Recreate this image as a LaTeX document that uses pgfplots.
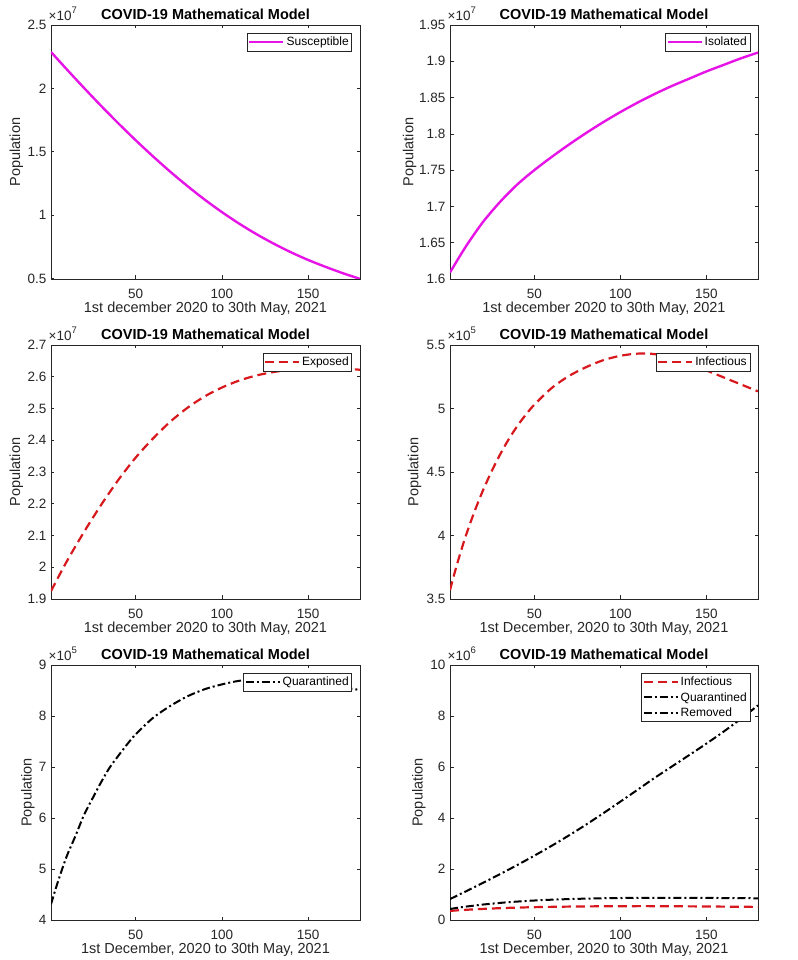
\documentclass[border=0pt]{standalone}
\usepackage{fontspec}
\setmainfont{Liberation Sans}
\usepackage{pgfplots}
\pgfplotsset{compat=1.18}
\definecolor{axgray}{RGB}{38,38,38}
\definecolor{mag}{RGB}{230,20,230}
\definecolor{myred}{RGB}{215,25,30}
\pgfplotsset{
  covid/.style={
    scale only axis, width=309pt, height=254pt, anchor=south west,
    xmin=1, xmax=180, xtick={50,100,150},
    tick align=inside, major tick length=3.5pt,
    axis line style={axgray, line width=0.5pt},
    every tick/.append style={axgray, line width=0.5pt},
    tick label style={font=\fontsize{13.5}{15}\selectfont, text=axgray},
    /pgf/number format/assume math mode=true,
    xticklabel style={anchor=north, inner sep=0pt, yshift=-10pt},
    yticklabel style={anchor=east, inner sep=0pt, xshift=-4.5pt},
    scaled x ticks=false,
    title style={font=\bfseries\fontsize{14.5}{17}\selectfont, at={(axis description cs:0.5,1)}, anchor=base, yshift=-1pt, inner sep=0pt},
    title={COVID-19 Mathematical Model},
    xlabel style={font=\fontsize{14.5}{17}\selectfont, text=axgray, at={(axis description cs:0.5,0)}, anchor=base, yshift=-33.5pt, inner sep=0pt},
    ylabel style={font=\fontsize{14.5}{17}\selectfont, text=axgray, anchor=base, inner sep=0pt},
    ylabel={Population},
    ytick scale label code/.code={×10\raisebox{0.55em}{\fontsize{9.5}{10}\selectfont ##1}},
    every y tick scale label/.style={at={(axis description cs:0,1)}, anchor=base west, xshift=2pt, yshift=4.3pt, inner sep=0pt, font=\fontsize{13.5}{15}\selectfont, text=axgray},
    legend style={at={(axis description cs:0.974,0.969)}, anchor=north east, draw=axgray, line width=0.5pt, fill=white, font=\fontsize{12}{14}\selectfont, inner xsep=1pt, inner ysep=2pt, row sep=1pt, text=black},
    legend cell align=left,
    legend image code/.code={\draw[##1] (0pt,0pt) -- (34pt,0pt);},
  },
  magline/.style={mag, line width=2.4pt, smooth},
  redline/.style={myred, line width=2.2pt, dash pattern=on 9pt off 5pt, smooth},
  blkline/.style={black, line width=2pt, dash pattern=on 8pt off 3pt on 2pt off 3pt, smooth},
}
\begin{document}
\begin{tikzpicture}
\useasboundingbox (0,0) rectangle (797pt,960pt);

% ---------- Row 1 left: Susceptible
\begin{axis}[covid, at={(51pt,681pt)},
  ymin=4950000, ymax=25000000,
  ytick={5000000,10000000,15000000,20000000,25000000},
  scaled y ticks=base 10:-7,
  xlabel={1st december 2020 to 30th May, 2021},
  ylabel style={at={(axis description cs:-0.1003,0.5)}}]
\addplot[magline] coordinates {(1,22870000) (10,21520000) (20,20050000) (30,18620000) (40,17240000) (50,15910000) (60,14640000) (70,13430000) (80,12290000) (90,11220000) (100,10230000) (110,9320000) (120,8490000) (130,7740000) (140,7060000) (150,6450000) (160,5910000) (170,5410000) (180,4960000)};
\addlegendentry{Susceptible}
\end{axis}

% ---------- Row 1 right: Isolated
\begin{axis}[covid, at={(450pt,681pt)}, width=308pt,
  ymin=16000000, ymax=19500000,
  ytick={16000000,16500000,17000000,17500000,18000000,18500000,19000000,19500000},
  scaled y ticks=base 10:-7,
  xlabel={1st december 2020 to 30th May, 2021},
  ylabel style={at={(axis description cs:-0.1192,0.5)}}]
\addplot[magline] coordinates {(1,16090000) (10,16440000) (20,16780000) (30,17060000) (40,17300000) (50,17500000) (60,17680000) (70,17850000) (80,18010000) (90,18160000) (100,18300000) (110,18430000) (120,18550000) (130,18660000) (140,18760000) (150,18860000) (160,18950000) (170,19040000) (180,19120000)};
\addlegendentry{Isolated}
\end{axis}

% ---------- Row 2 left: Exposed
\begin{axis}[covid, at={(51pt,361pt)},
  ymin=19000000, ymax=27000000,
  ytick={19000000,20000000,21000000,22000000,23000000,24000000,25000000,26000000,27000000},
  scaled y ticks=base 10:-7,
  xlabel={1st december 2020 to 30th May, 2021},
  ylabel style={at={(axis description cs:-0.1003,0.5)}}]
\addplot[redline] coordinates {(1,19250000) (10,20170000) (20,21100000) (30,21960000) (40,22750000) (50,23450000) (60,24050000) (70,24580000) (80,25020000) (90,25380000) (100,25660000) (110,25880000) (120,26040000) (130,26150000) (140,26220000) (150,26260000) (160,26270000) (170,26260000) (180,26220000)};
\addlegendentry{Exposed}
\end{axis}

% ---------- Row 2 right: Infectious
\begin{axis}[covid, at={(450pt,361pt)}, width=308pt,
  ymin=350000, ymax=550000,
  ytick={350000,400000,450000,500000,550000},
  scaled y ticks=base 10:-5,
  xlabel={1st December, 2020 to 30th May, 2021},
  ylabel style={at={(axis description cs:-0.1029,0.5)}}]
\addplot[redline] coordinates {(1,357000) (5,377000) (10,399000) (15,418000) (20,435000) (25,450000) (30,463500) (35,475500) (40,486000) (45,495000) (50,503000) (60,516000) (70,525500) (80,532500) (90,538000) (100,541500) (110,543200) (120,542800) (130,539500) (140,535000) (150,530000) (160,524500) (170,519000) (180,513500)};
\addlegendentry{Infectious}
\end{axis}

% ---------- Row 3 left: Quarantined
\begin{axis}[covid, at={(51pt,40pt)}, height=255pt,
  ymin=400000, ymax=900000,
  ytick={400000,500000,600000,700000,800000,900000},
  scaled y ticks=base 10:-5,
  xlabel={1st December, 2020 to 30th May, 2021},
  ylabel style={at={(axis description cs:-0.0625,0.5)}}]
\addplot[blkline] coordinates {(1,431000) (5,475000) (10,524000) (15,563500) (20,605000) (25,638000) (30,670000) (35,699000) (40,722000) (45,744000) (50,764000) (60,796000) (70,819500) (80,838500) (90,852500) (100,862000) (110,869000) (120,872000) (130,871000) (140,869000) (150,866000) (160,861000) (170,856000) (180,851000)};
\addlegendentry{Quarantined}
\end{axis}

% ---------- Row 3 right: combined
\begin{axis}[covid, at={(450pt,40pt)}, width=308pt, height=255pt,
  ymin=0, ymax=10000000,
  ytick={0,2000000,4000000,6000000,8000000,10000000},
  scaled y ticks=base 10:-6,
  xlabel={1st December, 2020 to 30th May, 2021},
  ylabel style={at={(axis description cs:-0.0886,0.5)}}]
\addplot[redline] coordinates {(1,357000) (5,377000) (10,399000) (15,418000) (20,435000) (25,450000) (30,463500) (35,475500) (40,486000) (45,495000) (50,503000) (60,516000) (70,525500) (80,532500) (90,538000) (100,541500) (110,543200) (120,542800) (130,539500) (140,535000) (150,530000) (160,524500) (170,519000) (180,513500)};
\addlegendentry{Infectious}
\addplot[blkline] coordinates {(1,431000) (5,475000) (10,524000) (15,563500) (20,605000) (25,638000) (30,670000) (35,699000) (40,722000) (45,744000) (50,764000) (60,796000) (70,819500) (80,838500) (90,852500) (100,862000) (110,869000) (120,872000) (130,871000) (140,869000) (150,866000) (160,861000) (170,856000) (180,851000)};
\addlegendentry{Quarantined}
\addplot[blkline] coordinates {(1,820000) (10,1117000) (20,1452000) (30,1797000) (40,2152000) (50,2522000) (60,2907000) (70,3312000) (80,3737000) (90,4182000) (100,4642000) (110,5107000) (120,5577000) (130,6022000) (140,6467000) (150,6917000) (160,7387000) (170,7887000) (180,8417000)};
\addlegendentry{Removed}
\end{axis}
\end{tikzpicture}
\end{document}
